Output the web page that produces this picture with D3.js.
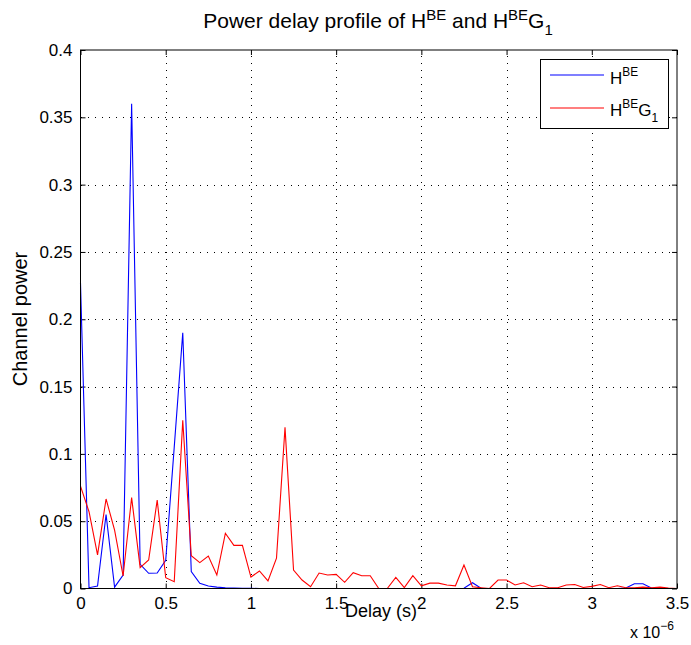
<!DOCTYPE html>
<html>
<head>
<meta charset="utf-8">
<script src="https://cdn.jsdelivr.net/npm/d3@7"></script>
<style>
  body { margin: 0; background: #fff; }
  text { font-family: "Liberation Sans", Arial, sans-serif; fill: #000; }
</style>
</head>
<body>
<script>
// delay samples every 50 ns, 0 .. 3.5 us
var step = 0.05e-6;

// channel power of H^BE
var powerH = [
  0.227, 0.0006, 0.0018, 0.055, 0.001, 0.010, 0.360, 0.018, 0.0113, 0.0115,
  0.021, 0.105, 0.190, 0.0125, 0.0039, 0.0019, 0.001, 0.0006, 0.0004, 0.0002,
  0.0001, 0, 0, 0, 0, 0, 0, 0, 0, 0,
  0, 0, 0, 0, 0, 0, 0, 0, 0, 0,
  0, 0, 0, 0, 0, 0.0002, 0.0043, 0.0002, 0, 0,
  0, 0, 0, 0, 0, 0, 0, 0, 0, 0,
  0, 0, 0, 0, 0.0004, 0.0035, 0.0035, 0.0004, 0, 0,
  0
];

// channel power of H^BE G_1
var powerHG = [
  0.076, 0.057, 0.025, 0.0665, 0.0434, 0.0093, 0.0675, 0.0155, 0.0212, 0.0657,
  0.008, 0.005, 0.125, 0.0244, 0.0192, 0.0241, 0.010, 0.041, 0.032, 0.032,
  0.0085, 0.013, 0.0057, 0.0225, 0.1197, 0.0137, 0.0063, 0.0013, 0.0115, 0.010,
  0.0105, 0.0046, 0.0117, 0.0095, 0.0095, 0, 0, 0.0083, 0.0006, 0.0095,
  0.002, 0.004, 0.004, 0.0026, 0.002, 0.0175, 0.0013, 0.0006, 0, 0.0063,
  0.0063, 0.0026, 0.0043, 0.0013, 0.0026, 0.0006, 0.0006, 0.0026, 0.003, 0.0008,
  0.0016, 0.003, 0.0006, 0.002, 0.0006, 0.0006, 0.001, 0.0006, 0.001, 0.0004,
  0
];

var xTicks = [0, 0.5, 1, 1.5, 2, 2.5, 3, 3.5];
var yTicks = [0, 0.05, 0.1, 0.15, 0.2, 0.25, 0.3, 0.35, 0.4];

var W = 691, H = 645;
var pLeft = 80.5, pRight = 677, pTop = 50, pBottom = 588.5;

var svg = d3.select("body").append("svg")
    .attr("width", W)
    .attr("height", H);

var x = d3.scaleLinear().domain([0, 3.5e-6]).range([pLeft, pRight]);
var y = d3.scaleLinear().domain([0, 0.4]).range([pBottom, pTop]);

// dotted grid
var grid = svg.append("g").attr("stroke", "#000").attr("stroke-width", 1)
    .attr("stroke-dasharray", "1,6").attr("shape-rendering", "crispEdges");
grid.selectAll(".gx").data(xTicks.slice(1, -1)).enter().append("line")
    .attr("x1", function(d) { return Math.round(x(d * 1e-6)) + 0.5; })
    .attr("x2", function(d) { return Math.round(x(d * 1e-6)) + 0.5; })
    .attr("y1", pBottom).attr("y2", pTop);
grid.selectAll(".gy").data(yTicks.slice(1, -1)).enter().append("line")
    .attr("y1", function(d) { return Math.round(y(d)) + 0.5; })
    .attr("y2", function(d) { return Math.round(y(d)) + 0.5; })
    .attr("x1", pLeft).attr("x2", pRight);

// axes, ticks inward on all four sides
var xs = x.copy().domain([0, 3.5]);
function noLabels(ax) { return ax.tickSizeOuter(0).tickFormat(""); }
var gb = svg.append("g").attr("transform", "translate(0," + pBottom + ")")
    .call(d3.axisBottom(xs).tickValues(xTicks).tickSizeInner(-5).tickSizeOuter(0).tickPadding(8).tickFormat(d3.format("")));
var gt = svg.append("g").attr("transform", "translate(0," + pTop + ")")
    .call(noLabels(d3.axisTop(xs).tickValues(xTicks).tickSizeInner(-5)));
var gl = svg.append("g").attr("transform", "translate(" + pLeft + ",0)")
    .call(d3.axisLeft(y).tickValues(yTicks).tickSizeInner(-5).tickSizeOuter(0).tickPadding(8).tickFormat(d3.format("")));
var gr = svg.append("g").attr("transform", "translate(" + pRight + ",0)")
    .call(noLabels(d3.axisRight(y).tickValues(yTicks).tickSizeInner(-5)));
[gb, gt, gl, gr].forEach(function(g) {
  g.select(".domain").remove();
  g.selectAll("line").attr("stroke", "#000");
  g.selectAll("text").style("font-size", "17px")
    .style("font-family", "'Liberation Sans', Arial, sans-serif");
});

// data lines
var line = d3.line()
    .x(function(d, i) { return x(i * step); })
    .y(function(d) { return y(d); });

svg.append("path").datum(powerH)
    .attr("fill", "none").attr("stroke", "#0000ff").attr("stroke-width", 1.1)
    .attr("d", line);
svg.append("path").datum(powerHG)
    .attr("fill", "none").attr("stroke", "#ff0000").attr("stroke-width", 1.1)
    .attr("d", line);

// box
svg.append("rect")
    .attr("x", pLeft).attr("y", pTop)
    .attr("width", pRight - pLeft).attr("height", pBottom - pTop)
    .attr("fill", "none").attr("stroke", "#000").attr("stroke-width", 1);

// legend
var lg = svg.append("g");
lg.append("rect").attr("x", 540.5).attr("y", 59.5).attr("width", 128).attr("height", 69)
  .attr("fill", "#fff").attr("stroke", "#000");
lg.append("line").attr("x1", 550).attr("x2", 604).attr("y1", 75).attr("y2", 75)
  .attr("stroke", "#0000ff").attr("stroke-width", 1.1);
lg.append("line").attr("x1", 550).attr("x2", 604).attr("y1", 108).attr("y2", 108)
  .attr("stroke", "#ff0000").attr("stroke-width", 1.1);

function hLabel(g, xPos, yPos, size, withG) {
  var t = g.append("text").attr("x", xPos).attr("y", yPos).style("font-size", size + "px");
  t.append("tspan").text("H");
  t.append("tspan").attr("dy", -size * 0.45).style("font-size", (size * 0.7) + "px").text("BE");
  if (withG) {
    t.append("tspan").attr("dy", size * 0.45).text("G");
    t.append("tspan").attr("dy", size * 0.35).style("font-size", (size * 0.7) + "px").text("1");
  }
  return t;
}
hLabel(lg, 610, 84, 17, false);
hLabel(lg, 610, 116, 17, true);

// title
var title = svg.append("text").attr("x", 378).attr("y", 28)
    .attr("text-anchor", "middle").style("font-size", "21px");
title.append("tspan").text("Power delay profile of H");
title.append("tspan").attr("dy", -8).style("font-size", "15px").text("BE");
title.append("tspan").attr("dy", 8).text(" and H");
title.append("tspan").attr("dy", -8).style("font-size", "15px").text("BE");
title.append("tspan").attr("dy", 8).text("G");
title.append("tspan").attr("dy", 7).style("font-size", "15px").text("1");

// axis labels
svg.append("text").attr("x", 381).attr("y", 617).attr("text-anchor", "middle")
    .style("font-size", "18px").text("Delay (s)");
svg.append("text").attr("transform", "translate(27,319) rotate(-90)")
    .attr("text-anchor", "middle").style("font-size", "20px").text("Channel power");

// exponent
var ex = svg.append("text").attr("x", 630).attr("y", 638).style("font-size", "16px");
ex.append("tspan").text("x 10");
ex.append("tspan").attr("dy", -8).style("font-size", "12px").text("\u22126");
</script>
</body>
</html>
